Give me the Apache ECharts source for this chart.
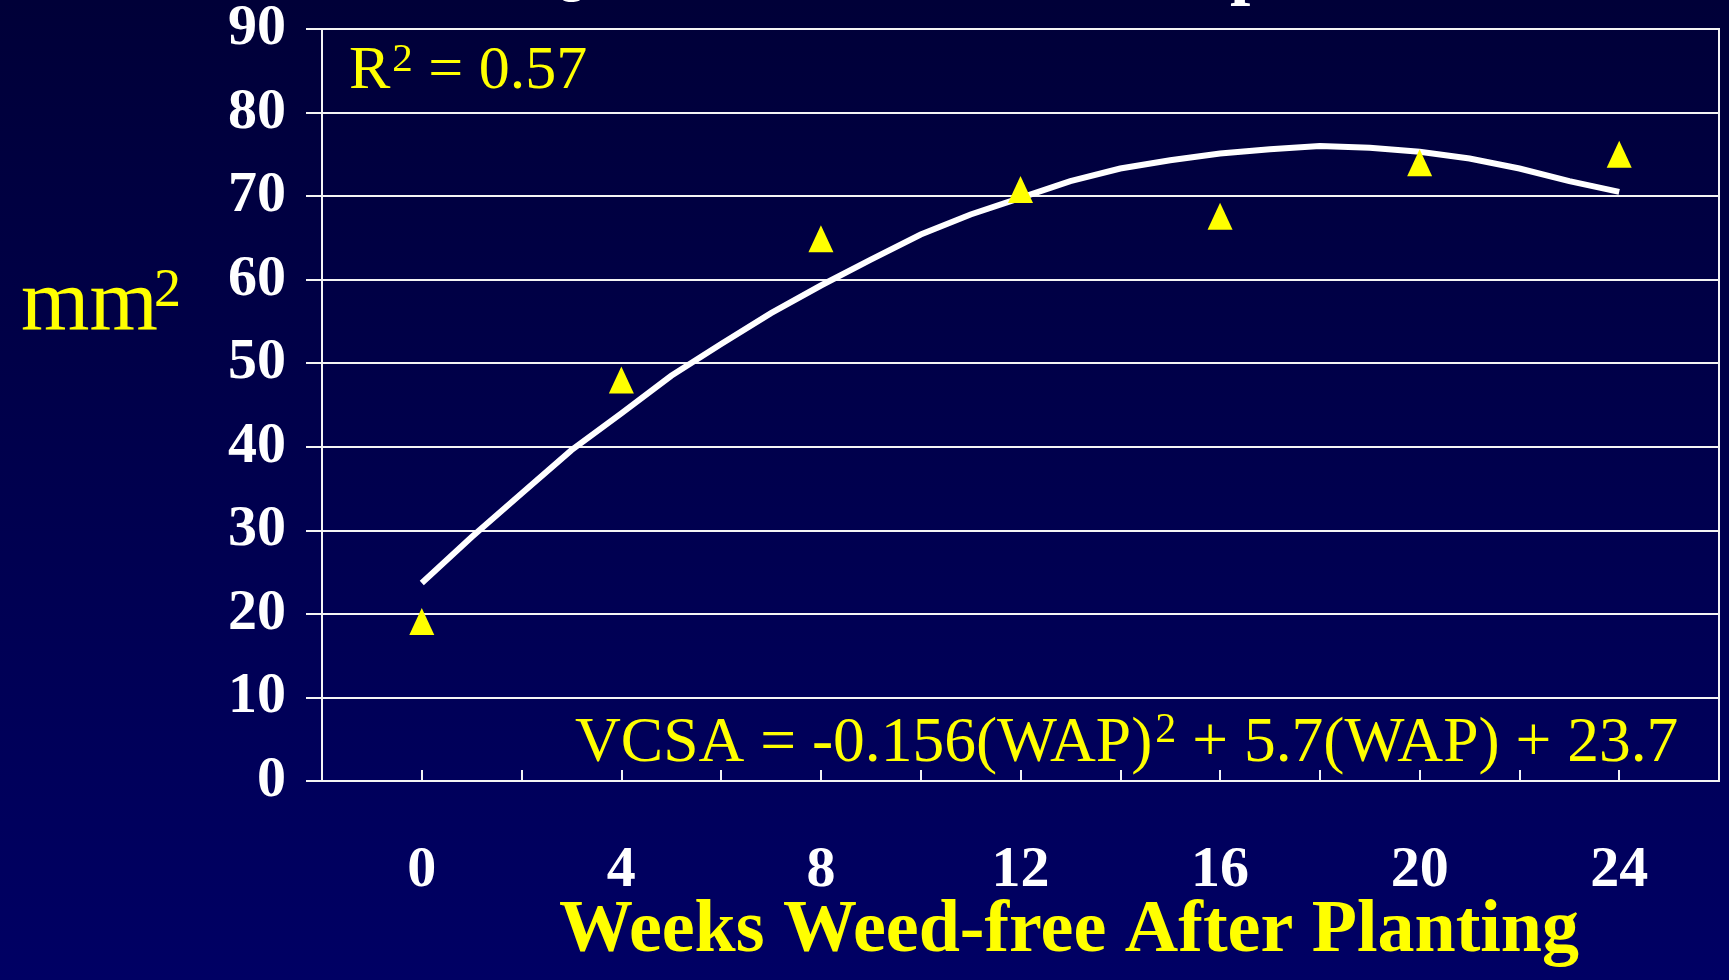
<!DOCTYPE html>
<html>
<head>
<meta charset="utf-8">
<script src="https://cdn.jsdelivr.net/npm/echarts@6/dist/echarts.min.js"></script>
<style>
  html, body { margin: 0; padding: 0; background: #000040; }
  #chart { width: 1729px; height: 980px; }
</style>
</head>
<body>
<div id="chart"></div>
<script>
// ---- data ----
const weeks = [0, 4, 8, 12, 16, 20, 24];
const vcsa = [19.1, 48.0, 64.9, 70.8, 67.6, 74.0, 75.0];

const trendWeeks = [0, 1, 2, 3, 4, 5, 6, 7, 8, 9, 10, 11, 12, 13, 14, 15, 16, 17, 18, 19, 20, 21, 22, 23, 24];
const trendValues = [23.7, 29.2, 34.4, 39.6, 44.0, 48.5, 52.3, 56.0, 59.3, 62.4, 65.4, 67.8, 69.8, 71.8, 73.3, 74.3, 75.1, 75.6, 76.0, 75.8, 75.3, 74.5, 73.3, 71.8, 70.5];

const xTickLabels = ['0', '4', '8', '12', '16', '20', '24'];
const yTickLabels = ['0', '10', '20', '30', '40', '50', '60', '70', '80', '90'];

const xAxisTitle = 'Weeks Weed-free After Planting';
const yAxisUnit = 'mm';
const supTwo = '2';
const r2Main = 'R';
const r2Rest = ' = 0.57';
const eqPart1 = 'VCSA = -0.156(WAP)';
const eqPart2 = ' + 5.7(WAP) + 23.7';
const titleFragments = ['Q', 'p'];

// ---- chart ----
const chart = echarts.init(document.getElementById('chart'), null, { renderer: 'canvas' });

const SERIF = '"Liberation Serif", "Times New Roman", serif';
const YELLOW = '#ffff00';
const LINE = '#f4f4f4';
// canvas 'middle' baseline offset for Liberation Serif: (ascent - descent)/2
const MID = 0.3375;
const measureCtx = document.createElement('canvas').getContext('2d');
function fontOf(size, bold) { return (bold ? 'bold ' : '') + size + 'px ' + SERIF; }
function widthOf(text, size, bold) { measureCtx.font = fontOf(size, bold); return measureCtx.measureText(text).width; }
function txt(text, x, baseline, size, color, bold, align) {
  return {
    type: 'text',
    silent: true,
    z: 100,
    style: {
      text: text,
      x: x,
      y: baseline - MID * size,
      fill: color,
      align: align || 'left',
      verticalAlign: 'middle',
      font: fontOf(size, bold)
    }
  };
}
// a run of text pieces laid out left to right; each piece: [text, size, baseline offset, extra gap]
function run(pieces, x, baseline, color) {
  const out = [];
  let cx = x;
  pieces.forEach(function (p) {
    out.push(txt(p[0], cx, baseline + p[2], p[1], color, false));
    cx += widthOf(p[0], p[1], false) + (p[3] || 0);
  });
  return out;
}

const option = {
  animation: false,
  backgroundColor: {
    type: 'linear', x: 0, y: 0, x2: 0, y2: 1,
    colorStops: [
      { offset: 0, color: '#000038' },
      { offset: 1, color: '#000064' }
    ]
  },
  grid: {
    left: 322, right: 10, top: 27, bottom: 199,
    show: true,
    borderColor: LINE,
    borderWidth: 2,
    backgroundColor: 'transparent'
  },
  xAxis: {
    type: 'value',
    min: -2, max: 26, interval: 2,
    axisLine: { show: true, onZero: false, lineStyle: { color: LINE, width: 2 } },
    axisTick: { show: true, inside: true, length: 11, lineStyle: { color: LINE, width: 2 } },
    splitLine: { show: false },
    axisLabel: {
      show: true,
      margin: 61,
      color: '#ffffff',
      fontFamily: SERIF,
      fontWeight: 'bold',
      fontSize: 58,
      formatter: function (v) {
        const s = String(v);
        return xTickLabels.indexOf(s) >= 0 ? s : '';
      }
    }
  },
  yAxis: {
    type: 'value',
    min: 0, max: 90, interval: 10,
    axisLine: { show: true, onZero: false, lineStyle: { color: LINE, width: 2 } },
    axisTick: { show: true, inside: false, length: 16, lineStyle: { color: LINE, width: 2 } },
    splitLine: { show: true, lineStyle: { color: LINE, width: 2 } },
    axisLabel: {
      show: true,
      margin: 36,
      color: '#ffffff',
      fontFamily: SERIF,
      fontWeight: 'bold',
      fontSize: 58,
      padding: [8, 0, 0, 0],
      formatter: function (v) {
        const s = String(v);
        return yTickLabels.indexOf(s) >= 0 ? s : '';
      }
    }
  },
  series: [
    {
      type: 'line',
      name: 'trend',
      data: trendWeeks.map(function (w, i) { return [w, trendValues[i]]; }),
      showSymbol: false,
      symbol: 'none',
      smooth: false,
      lineStyle: { color: '#ffffff', width: 6, cap: 'butt', join: 'miter' },
      z: 2
    },
    {
      type: 'scatter',
      name: 'VCSA',
      data: weeks.map(function (w, i) { return [w, vcsa[i]]; }),
      symbol: 'triangle',
      symbolSize: [25, 27],
      itemStyle: { color: YELLOW, opacity: 1 },
      z: 3
    }
  ],
  graphic: [
    // cut-off title remnants at the very top
    txt(titleFragments[0], 526, -4, 73, '#ffffff', true),
    txt(titleFragments[1], 1230, -4, 73, '#ffffff', true),
    // y unit
    txt(yAxisUnit, 21, 337, 88, YELLOW, false),
    txt(supTwo, 154, 310, 54, YELLOW, false),
    // x axis title
    txt(xAxisTitle, 1069, 957, 74, YELLOW, true, 'center')
  ]
  // R^2 and equation
  .concat(run([[r2Main, 62, 0, 2], [supTwo, 41, -19], [r2Rest, 62, 0]], 349, 93, YELLOW))
  .concat(run([[eqPart1, 63.5, 0, 3], [supTwo, 42, -21], [eqPart2, 63.5, 0]], 575, 766, YELLOW))
};

chart.setOption(option);
</script>
</body>
</html>
